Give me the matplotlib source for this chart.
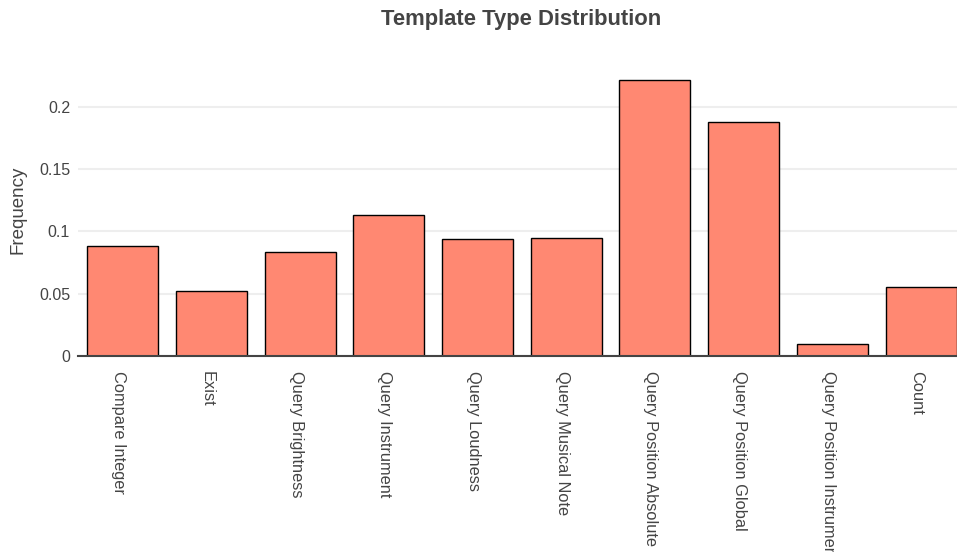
import matplotlib
matplotlib.use("Agg")
import matplotlib.pyplot as plt
import matplotlib.transforms as mtransforms

categories = ["Compare Integer", "Exist", "Query Brightness", "Query Instrument",
              "Query Loudness", "Query Musical Note", "Query Position Absolute",
              "Query Position Global", "Query Position Instrument", "Count"]
frequency = [0.0882, 0.0520, 0.0839, 0.1136, 0.0937, 0.0946, 0.2220, 0.1880, 0.0097, 0.0552]
yticks = [0, 0.05, 0.1, 0.15, 0.2]
ytick_labels = ["0", "0.05", "0.1", "0.15", "0.2"]

plt.rcParams['font.family'] = ['Liberation Sans', 'DejaVu Sans']
W, H = 957, 552
fig = plt.figure(figsize=(W / 100, H / 100), dpi=100)
ax = fig.add_axes([78.4 / W, (H - 356) / H, 887 / W, 291 / H])

x = list(range(len(categories)))
ax.bar(x, frequency, width=0.8, color="#FF8872", edgecolor="black", linewidth=1, zorder=3)

ax.set_xlim(-0.5, len(categories) - 0.5)
ax.set_ylim(0, 0.2337)
ax.set_yticks(yticks)
ax.set_yticklabels(ytick_labels)
ax.set_xticks(x)
ax.set_xticklabels(categories, rotation=-90, ha="center", va="top")

ax.tick_params(axis="x", length=0, pad=11, labelsize=11.8, labelcolor="#444444")
ax.tick_params(axis="y", length=0, pad=6, labelsize=11.5, labelcolor="#444444")
shift = mtransforms.ScaledTranslation(-4 / 100, 0, fig.dpi_scale_trans)
for lbl in ax.get_xticklabels():
    lbl.set_transform(lbl.get_transform() + shift)

ax.grid(axis="y", color="#EEEEEE", linewidth=1.5, zorder=0)
ax.set_axisbelow(True)
for s in ["top", "right", "left"]:
    ax.spines[s].set_visible(False)
ax.spines["bottom"].set_color("#444444")
ax.spines["bottom"].set_linewidth(1.5)
ax.spines["bottom"].set_zorder(4)

fig.text(18 / W, 1 - 210 / H, "Frequency", rotation=90, ha="center", va="center",
         fontsize=13.5, color="#444444")
fig.text(521 / W, 1 - 19 / H, "Template Type Distribution", ha="center", va="center",
         fontsize=15.8, fontweight="bold", color="#444444")

fig.savefig("out.png", dpi=100)
